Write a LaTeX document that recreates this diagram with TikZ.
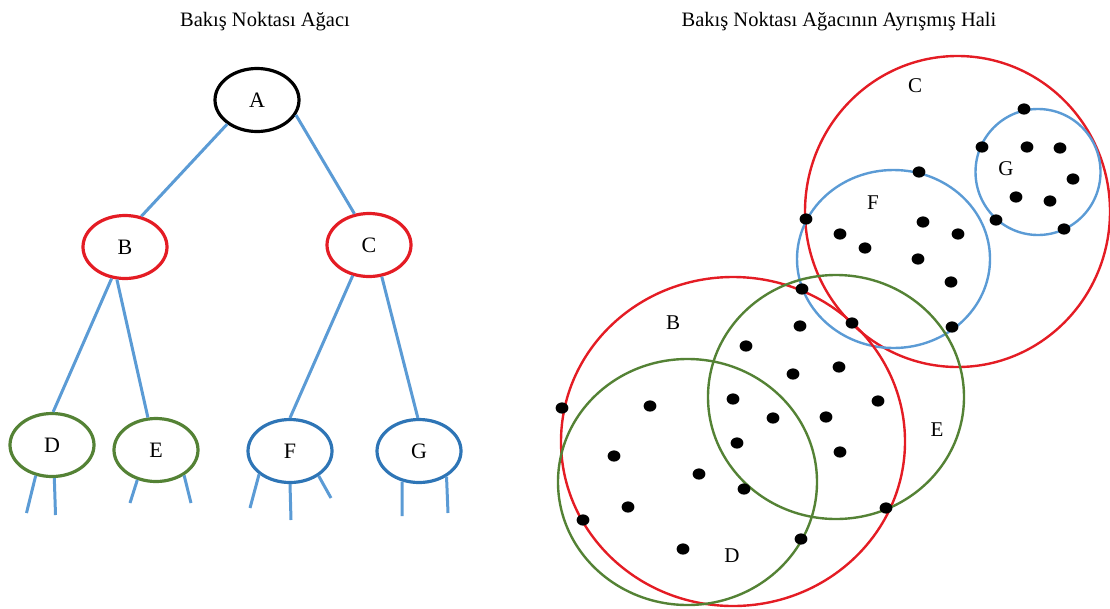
\documentclass[tikz,border=0pt]{standalone}
\usepackage{fontspec}
\setmainfont{Liberation Serif}
\usetikzlibrary{shapes.geometric}
\definecolor{cred}{RGB}{228,28,36}
\definecolor{cgreen}{RGB}{84,130,53}
\definecolor{lblue}{RGB}{91,155,213}
\definecolor{dblue}{RGB}{46,117,182}
\tikzset{
  treenode/.style={ellipse, draw, line width=3.2pt, minimum width=84pt, minimum height=63pt, inner sep=0pt, font=\fontsize{22}{26}\selectfont},
  edgeline/.style={lblue, line width=3pt},
  region/.style={line width=2.4pt},
  regionlabel/.style={font=\fontsize{21}{25}\selectfont, inner sep=0pt},
  titletext/.style={font=\fontsize{20.5}{24}\selectfont, anchor=base, inner sep=0pt}
}
\begin{document}
\begin{tikzpicture}[x=1pt,y=-1pt]
\useasboundingbox (0,0) rectangle (1110,608);
% titles
\node[titletext] (t1) at (265,26) {Bakış Noktası Ağacı};
\node[titletext] (t2) at (839,26) {Bakış Noktası Ağacının Ayrışmış Hali};
% tree nodes
\node[treenode, draw=black] (A) at (257,100) {A};
\node[treenode, draw=cred] (B) at (125,247) {B};
\node[treenode, draw=cred] (C) at (369,245) {C};
\node[treenode, draw=cgreen] (D) at (52,445) {D};
\node[treenode, draw=cgreen] (E) at (156,450) {E};
\node[treenode, draw=dblue] (F) at (290,451) {F};
\node[treenode, draw=dblue] (G) at (419,451) {G};
% tree edges
\draw[edgeline] (A.219) -- (B.62);
\draw[edgeline] (A.339) -- (C.115);
\draw[edgeline] (B.247) -- (D.88);
\draw[edgeline] (B.256) -- (E.104);
\draw[edgeline] (C.242) -- (F.90);
\draw[edgeline] (C.292) -- (G.92);
% dangling branches
\coordinate (d1) at (26.5,513);
\coordinate (d2) at (55.5,515);
\coordinate (e1) at (130,503);
\coordinate (e2) at (191,503);
\coordinate (f1) at (250,508);
\coordinate (f2) at (291,520);
\coordinate (f3) at (331,498);
\coordinate (g1) at (402,516);
\coordinate (g2) at (448,513);
\draw[edgeline] (D.242) -- (d1);
\draw[edgeline] (D.274) -- (d2);
\draw[edgeline] (E.238) -- (e1);
\draw[edgeline] (E.318) -- (e2);
\draw[edgeline] (F.217) -- (f1);
\draw[edgeline] (F.270) -- (f2);
\draw[edgeline] (F.319) -- (f3);
\draw[edgeline] (G.241) -- (g1);
\draw[edgeline] (G.317) -- (g2);
% decomposed regions
\draw[region, cred] (957.5,211.5) ellipse [x radius=152.5pt, y radius=155.5pt];
\draw[region, lblue] (1038,172) ellipse [x radius=62.5pt, y radius=63pt];
\draw[region, lblue] (893.5,259) ellipse [x radius=96.5pt, y radius=89pt];
\draw[region, cred] (733,441.5) ellipse [x radius=172pt, y radius=164.5pt];
\draw[region, cgreen] (836,397) ellipse [x radius=128pt, y radius=122pt];
\draw[region, cgreen] (687.5,482) ellipse [x radius=129.5pt, y radius=123pt];
% points
\foreach \px/\py in {1024/109, 982/147, 1027/147, 1060/148, 1073/179, 1016/197, 1050/201, 996/220, 1064/229,
  919/172, 806/219, 923/222, 840/234, 958/234, 865/248, 918/259, 951/282, 802/289, 852/323, 952/327, 800/326,
  746/346, 793/374, 839/367, 733/399, 878/401, 562/408, 650/406, 773/418, 826/417, 737/443, 840/452, 614/456,
  699/474, 744/489, 886/508, 628/507, 583/520, 801/539, 683/549}
  \fill (\px,\py) ellipse [x radius=6.4pt, y radius=5.6pt];
% region labels
\node[regionlabel] (lc) at (915,86) {C};
\node[regionlabel] (lg) at (1006,169) {G};
\node[regionlabel] (lf) at (873,203) {F};
\node[regionlabel] (lb) at (673,323) {B};
\node[regionlabel] (le) at (937,430) {E};
\node[regionlabel] (ld) at (732,556) {D};
\end{tikzpicture}
\end{document}
